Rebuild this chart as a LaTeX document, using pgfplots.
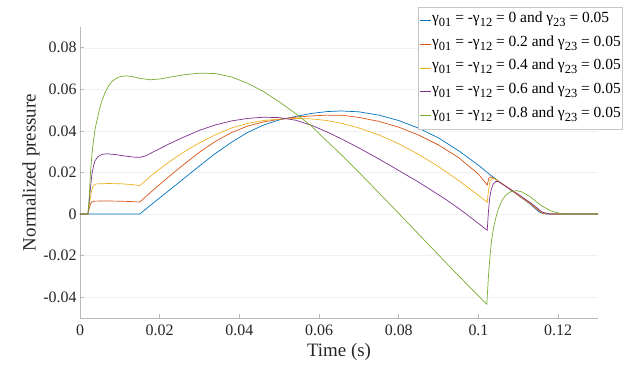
\documentclass[border=0pt]{standalone}
\usepackage{fontspec}
\setmainfont{Liberation Serif}
\usepackage{pgfplots}
\pgfplotsset{compat=1.18}

% MATLAB default line colours
\definecolor{mblue}{rgb}{0,0.447,0.741}
\definecolor{mred}{rgb}{0.850,0.325,0.098}
\definecolor{myellow}{rgb}{0.929,0.694,0.125}
\definecolor{mpurple}{rgb}{0.494,0.184,0.556}
\definecolor{mgreen}{rgb}{0.466,0.674,0.188}

\newcommand\sub[1]{\raisebox{-0.6ex}{\fontsize{12.5}{12.5}\selectfont #1}}
\newcommand\leg[1]{γ\sub{01} = -γ\sub{12} = #1 and γ\sub{23} = 0.05}

\begin{document}
\begin{tikzpicture}
\begin{axis}[
    scale only axis,
    width=518bp, height=291bp,
    xmin=0, xmax=0.13,
    ymin=-0.05, ymax=0.09,
    xtick={0,0.02,0.04,0.06,0.08,0.1,0.12},
    ytick={-0.04,-0.02,0,0.02,0.04,0.06,0.08},
    scaled ticks=false,
    /pgf/number format/fixed,
    /pgf/number format/precision=2,
    /pgf/number format/assume math mode=true,
    xticklabel={\pgfmathprintnumber{\tick}},
    yticklabel={\pgfmathprintnumber{\tick}},
    axis x line*=bottom,
    axis y line*=left,
    axis line style={-, gray!55, line width=0.6pt},
    tick align=inside,
    major tick length=4bp,
    tick style={gray!55, line width=0.6pt},
    ymajorgrids,
    grid style={gray!12, line width=0.5pt},
    ticklabel style={font=\fontsize{16}{18}\selectfont, text=black!85},
    xticklabel style={yshift=-3bp},
    xlabel={Time (s)},
    ylabel={Normalized pressure},
    label style={font=\fontsize{19}{22}\selectfont, text=black!85},
    xlabel style={at={(axis description cs:0.5,-0.133)}, anchor=base},
    ylabel style={at={(axis description cs:-0.0946,0.5)}, anchor=center},
    legend cell align=left,
    legend style={
        at={(axis description cs:1.0483,1.0687)}, anchor=north east,
        draw=gray!45, line width=0.6pt, fill=white,
        font=\fontsize{15.5}{18}\selectfont,
        inner sep=1.5bp, row sep=0pt,
        nodes={inner sep=0.5bp, text height=13bp, text depth=9.7bp},
    },
    legend image code/.code={\draw[#1] (0bp,0bp) -- (11bp,0bp);},
    every axis plot/.append style={line width=0.7pt},
]

\addplot[mblue] coordinates {
(0,0) (0.002,0) (0.015,0) (0.0185,0.0055) (0.0223,0.0113) (0.026,0.0170)
(0.030,0.0232) (0.034,0.0292) (0.038,0.0345) (0.042,0.0392) (0.046,0.0428)
(0.050,0.0453) (0.054,0.0469) (0.058,0.0484) (0.062,0.0493) (0.0655,0.0496)
(0.070,0.0492) (0.075,0.0476) (0.080,0.0450) (0.085,0.0413) (0.090,0.0366)
(0.095,0.0305) (0.100,0.0235) (0.1032,0.0185) (0.106,0.0145) (0.110,0.0090)
(0.113,0.0048) (0.1145,0.0022) (0.1155,0.0007) (0.117,0) (0.13,0)
};
\addlegendentry{\leg{0}}

\addplot[mred] coordinates {
(0,0) (0.002,0) (0.0024,0.0035) (0.0028,0.0055) (0.0034,0.0062) (0.006,0.0063)
(0.010,0.0062) (0.013,0.0060) (0.015,0.0058) (0.0185,0.0118) (0.0223,0.0180)
(0.026,0.0238) (0.030,0.0298) (0.034,0.0350) (0.038,0.0392) (0.042,0.0423)
(0.046,0.0443) (0.050,0.0456) (0.054,0.0466) (0.058,0.0472) (0.062,0.0476)
(0.066,0.0475) (0.070,0.0465) (0.075,0.0446) (0.080,0.0418) (0.085,0.0380)
(0.090,0.0332) (0.095,0.0272) (0.100,0.0192) (0.1022,0.0140) (0.1026,0.0172)
(0.1031,0.0179) (0.104,0.0170) (0.106,0.0145) (0.110,0.0090) (0.113,0.0050)
(0.1148,0.0022) (0.116,0.0005) (0.118,0) (0.13,0)
};
\addlegendentry{\leg{0.2}}

\addplot[myellow] coordinates {
(0,0) (0.002,0) (0.0024,0.0055) (0.0028,0.0105) (0.0033,0.0135) (0.004,0.0145)
(0.007,0.0147) (0.010,0.0146) (0.013,0.0142) (0.015,0.0137) (0.0185,0.0195)
(0.0223,0.0250) (0.026,0.0298) (0.030,0.0343) (0.034,0.0382) (0.038,0.0414)
(0.042,0.0436) (0.046,0.0450) (0.050,0.0457) (0.054,0.0460) (0.058,0.0458)
(0.062,0.0450) (0.066,0.0435) (0.070,0.0414) (0.075,0.0381) (0.080,0.0338)
(0.085,0.0287) (0.090,0.0228) (0.095,0.0162) (0.100,0.0090) (0.1022,0.0057)
(0.1025,0.0110) (0.1029,0.0160) (0.1035,0.0172) (0.1042,0.0168) (0.106,0.0146)
(0.110,0.0092) (0.113,0.0053) (0.1148,0.0025) (0.116,0.0007) (0.118,0) (0.13,0)
};
\addlegendentry{\leg{0.4}}

\addplot[mpurple] coordinates {
(0,0) (0.002,0) (0.0024,0.008) (0.0027,0.0140) (0.003,0.0193) (0.0034,0.0233)
(0.0038,0.0257) (0.0045,0.0276) (0.0055,0.0287) (0.0068,0.0290) (0.009,0.0286)
(0.0114,0.0279) (0.0135,0.0274) (0.015,0.0273) (0.0165,0.0280) (0.0185,0.0300)
(0.0223,0.0337) (0.026,0.0370) (0.030,0.0403) (0.034,0.0429) (0.038,0.0448)
(0.042,0.0460) (0.046,0.0466) (0.050,0.0464) (0.054,0.0452) (0.058,0.0428)
(0.062,0.0395) (0.066,0.0358) (0.070,0.0318) (0.074,0.0276) (0.078,0.0232)
(0.082,0.0187) (0.0847,0.0157) (0.088,0.0117) (0.092,0.0068) (0.096,0.0014)
(0.1022,-0.0078) (0.1025,0.0010) (0.1028,0.0075) (0.1032,0.0118) (0.1037,0.0145)
(0.1044,0.0157) (0.105,0.0156) (0.107,0.0132) (0.110,0.0095) (0.113,0.0055)
(0.1148,0.0028) (0.116,0.0009) (0.118,0) (0.13,0)
};
\addlegendentry{\leg{0.6}}

\addplot[mgreen] coordinates {
(0,0) (0.002,0) (0.0023,0.008) (0.0026,0.019) (0.003,0.029) (0.0034,0.0355)
(0.0038,0.041) (0.0043,0.0455) (0.0049,0.0505) (0.0055,0.0545) (0.0063,0.0585)
(0.0072,0.0617) (0.008,0.0637) (0.009,0.0652) (0.010,0.0661) (0.0114,0.0665)
(0.013,0.0662) (0.015,0.0653) (0.0177,0.0646) (0.020,0.0650) (0.023,0.0660)
(0.026,0.0670) (0.030,0.0678) (0.034,0.0676) (0.038,0.0660) (0.042,0.0630)
(0.046,0.0590) (0.050,0.0540) (0.054,0.0485) (0.058,0.0425) (0.062,0.0350)
(0.066,0.0278) (0.070,0.0201) (0.074,0.0122) (0.078,0.0043) (0.082,-0.0037)
(0.086,-0.0117) (0.090,-0.0197) (0.094,-0.0277) (0.098,-0.0355) (0.1021,-0.0434)
(0.1025,-0.030) (0.1029,-0.020) (0.1033,-0.0125) (0.1038,-0.0065) (0.1044,-0.0015)
(0.1050,0.0025) (0.1058,0.0062) (0.1068,0.0090) (0.108,0.0107) (0.1095,0.0113)
(0.111,0.0106) (0.113,0.0083) (0.1155,0.0045) (0.118,0.0016) (0.1205,0.0003)
(0.122,0) (0.13,0)
};
\addlegendentry{\leg{0.8}}

\end{axis}
\pgfresetboundingbox
\useasboundingbox (-80bp,-47bp) rectangle (551bp,318bp);
\end{tikzpicture}
\end{document}
